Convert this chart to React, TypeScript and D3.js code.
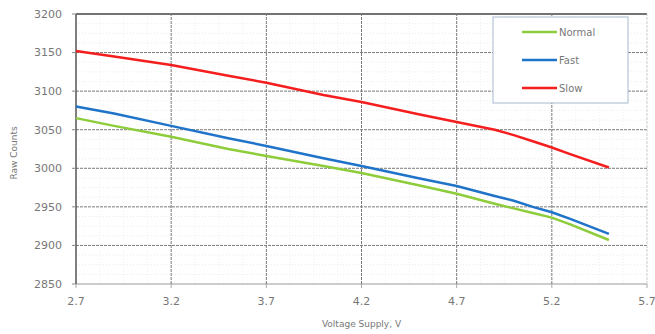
import React from "react";
import * as d3 from "d3";

const voltage = [2.7, 2.9, 3.2, 3.5, 3.7, 4.0, 4.2, 4.5, 4.7, 4.9, 5.0, 5.1, 5.2, 5.3, 5.5];
const normalCounts = [3065, 3055, 3041, 3025, 3016, 3003, 2994, 2978, 2967, 2954, 2948, 2942, 2936, 2927, 2907];
const fastCounts = [3080, 3071, 3055, 3039, 3029, 3013, 3003, 2987, 2977, 2964, 2958, 2950, 2943, 2934, 2915];
const slowCounts = [3152, 3145, 3134, 3120, 3111, 3095, 3086, 3070, 3060, 3050, 3043, 3035, 3027, 3018, 3001];

const xTicks = [2.7, 3.2, 3.7, 4.2, 4.7, 5.2, 5.7];
const yTicks = [2850, 2900, 2950, 3000, 3050, 3100, 3150, 3200];
const seriesNames = ["Normal", "Fast", "Slow"];
const seriesColors = ["#8dcc3a", "#1f73c9", "#f51e1e"];

export default function App() {
  const W = 655, H = 334;
  const x = d3.scaleLinear().domain([2.7, 5.7]).range([76, 647]);
  const y = d3.scaleLinear().domain([2850, 3200]).range([284, 14]);
  const series = [normalCounts, fastCounts, slowCounts];
  const line = d3.line<[number, number]>().x(d => x(d[0])).y(d => y(d[1]));
  const minorY = d3.range(2850, 3200, 12.5).filter(v => v % 50 !== 0);
  const minorX = d3.range(2.7, 5.7, 0.125).filter((v, i) => i % 4 !== 0);
  const font = "'DejaVu Sans', Verdana, sans-serif";
  const textColor = "#777";
  return (
    <svg width={W} height={H} style={{ position: "absolute", left: 0, top: 0, background: "#fff" }}>
      {minorY.map(v => (
        <line key={"my" + v} x1={x(2.7)} x2={x(5.7)} y1={y(v)} y2={y(v)} stroke="#e6e6e6" strokeWidth={0.8} strokeDasharray="1,2" />
      ))}
      {minorX.map((v, i) => (
        <line key={"mx" + i} x1={x(v)} x2={x(v)} y1={y(2850)} y2={y(3200)} stroke="#ececec" strokeWidth={0.8} strokeDasharray="1,2" />
      ))}
      {yTicks.map(v => (
        <line key={"gy" + v} x1={x(2.7)} x2={x(5.7)} y1={y(v)} y2={y(v)} stroke={v === 3200 ? "#444" : v === 2850 ? "#999" : "#7a7a7a"} strokeWidth={v === 3200 ? 1.5 : 1} strokeDasharray={v === 3200 || v === 2850 ? undefined : "3,1"} />
      ))}
      {xTicks.map(v => (
        <line key={"gx" + v} x1={x(v)} x2={x(v)} y1={y(2850)} y2={y(3200)} stroke={v === 2.7 ? "#555" : v === 5.7 ? "#ccc" : "#7a7a7a"} strokeWidth={v === 2.7 ? 1.5 : 1} strokeDasharray={v === 2.7 ? undefined : "3,1"} />
      ))}
      {yTicks.map(v => (
        <g key={"ty" + v}>
          <line x1={x(2.7) - 4} x2={x(2.7)} y1={y(v)} y2={y(v)} stroke="#888" />
          <text x={62} y={y(v)} dy="0.35em" textAnchor="end" fontSize={11} fill={textColor} fontFamily={font}>{v}</text>
        </g>
      ))}
      {xTicks.map(v => (
        <g key={"tx" + v}>
          <line x1={x(v)} x2={x(v)} y1={y(2850)} y2={y(2850) + 4} stroke="#aaa" />
          <text x={x(v)} y={305} textAnchor="middle" fontSize={11} fill={textColor} fontFamily={font}>{v.toFixed(1)}</text>
        </g>
      ))}
      {series.map((s, i) => (
        <path key={"s" + i} d={line(voltage.map((v, j) => [v, s[j]] as [number, number])) || ""} fill="none" stroke={seriesColors[i]} strokeWidth={2.5} />
      ))}
      <rect x={493} y={17} width={135} height={86} fill="#fff" stroke="#a8b8d0" strokeWidth={1} />
      {seriesNames.map((n, i) => (
        <g key={"l" + n}>
          <line x1={522} x2={557} y1={32 + i * 28} y2={32 + i * 28} stroke={seriesColors[i]} strokeWidth={2.5} />
          <text x={559} y={32 + i * 28} dy="0.35em" fontSize={10} fill={textColor} fontFamily={font}>{n}</text>
        </g>
      ))}
      <text x={(x(2.7) + x(5.7)) / 2} y={327} textAnchor="middle" fontSize={9} fill={textColor} fontFamily={font}>Voltage Supply, V</text>
      <text transform={`translate(17,${y(3020)}) rotate(-90)`} textAnchor="middle" fontSize={9} fill={textColor} fontFamily={font}>Raw Counts</text>
    </svg>
  );
}
